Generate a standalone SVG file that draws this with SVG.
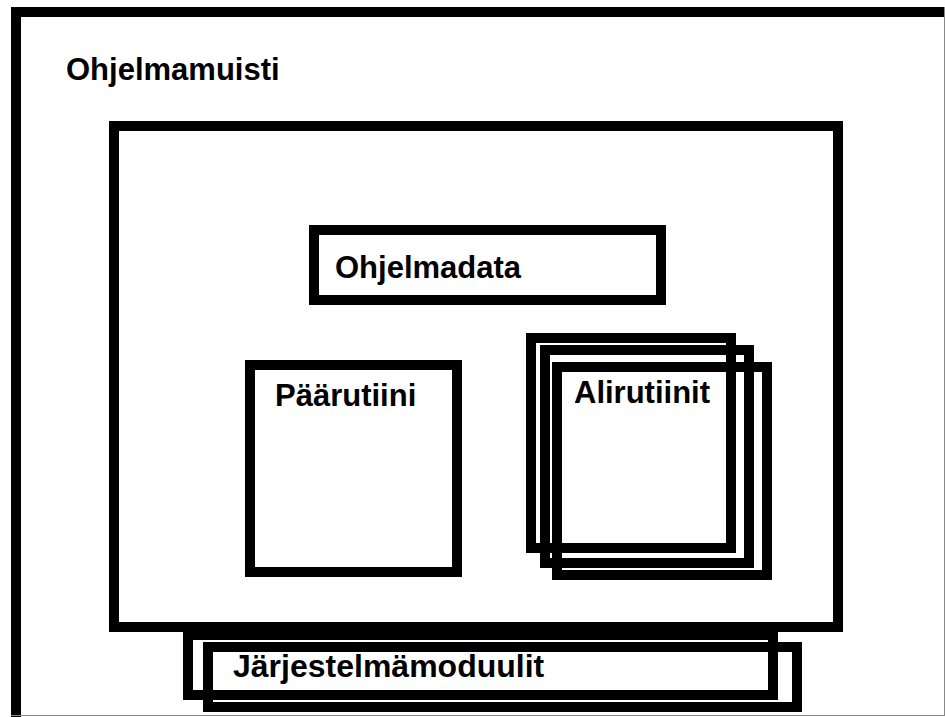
<svg xmlns="http://www.w3.org/2000/svg" width="945" height="717" viewBox="0 0 945 717">
<style>
.box{fill:none;stroke:#000;stroke-width:10}
.lbl{font-family:"Liberation Sans",Arial,sans-serif;font-weight:bold;font-size:31px;fill:#000}
.edge{stroke:#888;stroke-width:1;fill:none}
</style>
<rect x="0" y="0" width="945" height="717" fill="#fff"/>
<g id="ohjelmamuisti">
<rect class="box" x="16" y="12" width="940" height="720"/>
<text class="lbl" x="66" y="80">Ohjelmamuisti</text>
</g>
<g id="ohjelma">
<rect class="box" x="114" y="126" width="724" height="501"/>
</g>
<g id="ohjelmadata">
<rect class="box" x="314" y="230" width="347" height="70"/>
<text class="lbl" x="335" y="278">Ohjelmadata</text>
</g>
<g id="paarutiini">
<rect class="box" x="250" y="365" width="207" height="207"/>
<text class="lbl" x="275" y="406">Päärutiini</text>
</g>
<g id="alirutiinit">
<rect class="box" x="531" y="338" width="200" height="210"/>
<rect class="box" x="545" y="350" width="204" height="213"/>
<rect class="box" x="557" y="367" width="210" height="208"/>
<text class="lbl" x="574" y="403">Alirutiinit</text>
</g>
<g id="jarjestelmamoduulit">
<rect class="box" x="188" y="635" width="585" height="60"/>
<rect class="box" x="208" y="647" width="589" height="60"/>
<text class="lbl" x="233" y="677" style="font-size:32px">Järjestelmämoduulit</text>
</g>
<g id="connectors"></g>
<line class="edge" x1="944.5" y1="7" x2="944.5" y2="716"/>
<line class="edge" x1="11" y1="715.5" x2="945" y2="715.5"/>
</svg>
